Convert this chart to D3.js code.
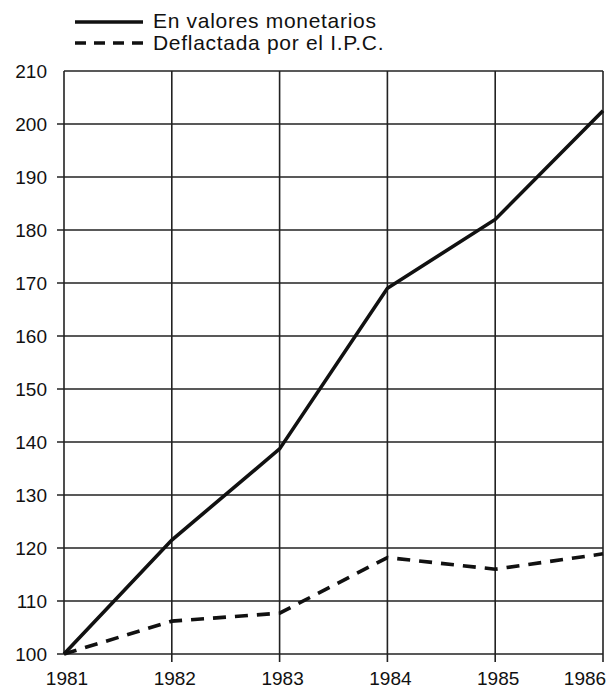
<!DOCTYPE html>
<html>
<head>
<meta charset="utf-8">
<script src="https://cdn.jsdelivr.net/npm/d3@7"></script>
<style>
  body { margin: 0; background: #fff; }
  text { font-family: "Liberation Sans", Arial, sans-serif; fill: #111; }
</style>
</head>
<body>
<svg width="610" height="691"></svg>
<script>
// data
const years = [1981, 1982, 1983, 1984, 1985, 1986];
const monetarios = [100, 121.5, 138.7, 169, 182, 202.5];
const deflactada = [100, 106.2, 107.7, 118.2, 116, 118.9];
const yTicks = [100, 110, 120, 130, 140, 150, 160, 170, 180, 190, 200, 210];

const svg = d3.select('svg');

const x = d3.scaleLinear().domain([1981, 1986]).range([64, 603]);
const y = d3.scaleLinear().domain([100, 210]).range([654, 71]);

// horizontal grid, with small stubs to the left (not for 210)
svg.selectAll('line.h')
  .data(yTicks)
  .enter()
  .append('line')
  .attr('x1', d => d === 210 ? x(1981) : x(1981) - 7)
  .attr('x2', x(1986))
  .attr('y1', d => y(d))
  .attr('y2', d => y(d))
  .attr('stroke', '#222')
  .attr('stroke-width', 1.6);

// vertical grid, with small stubs below
svg.selectAll('line.v')
  .data(years)
  .enter()
  .append('line')
  .attr('x1', d => x(d))
  .attr('x2', d => x(d))
  .attr('y1', y(210))
  .attr('y2', d => d === 1981 ? y(100) : y(100) + 8)
  .attr('stroke', '#222')
  .attr('stroke-width', 1.6);

// y labels
svg.selectAll('text.y')
  .data(yTicks)
  .enter()
  .append('text')
  .attr('x', 47)
  .attr('y', d => y(d) + 7)
  .attr('text-anchor', 'end')
  .attr('font-size', 19)
  .text(d => d);

// x labels (last one pulled in so it stays on the page)
svg.selectAll('text.x')
  .data(years)
  .enter()
  .append('text')
  .attr('x', d => Math.min(x(d) + 3, 585))
  .attr('y', 685)
  .attr('text-anchor', 'middle')
  .attr('font-size', 19)
  .text(d => d);

const line = d3.line()
  .x((d, i) => x(years[i]))
  .y(d => y(d));

svg.append('path')
  .attr('d', line(monetarios))
  .attr('fill', 'none')
  .attr('stroke', '#111')
  .attr('stroke-width', 3.6);

svg.append('path')
  .attr('d', line(deflactada))
  .attr('fill', 'none')
  .attr('stroke', '#111')
  .attr('stroke-width', 3.6)
  .attr('stroke-dasharray', '13,9');

// legend
svg.append('line')
  .attr('x1', 75).attr('x2', 143)
  .attr('y1', 22).attr('y2', 22)
  .attr('stroke', '#111').attr('stroke-width', 3.6);
svg.append('text')
  .attr('x', 153).attr('y', 28)
  .attr('font-size', 21)
  .attr('letter-spacing', 0.7)
  .text('En valores monetarios');

svg.append('line')
  .attr('x1', 75).attr('x2', 143)
  .attr('y1', 43).attr('y2', 43)
  .attr('stroke', '#111').attr('stroke-width', 3.6)
  .attr('stroke-dasharray', '11,8');
svg.append('text')
  .attr('x', 153).attr('y', 50)
  .attr('font-size', 21)
  .attr('letter-spacing', 0.7)
  .text('Deflactada por el I.P.C.');
</script>
</body>
</html>
